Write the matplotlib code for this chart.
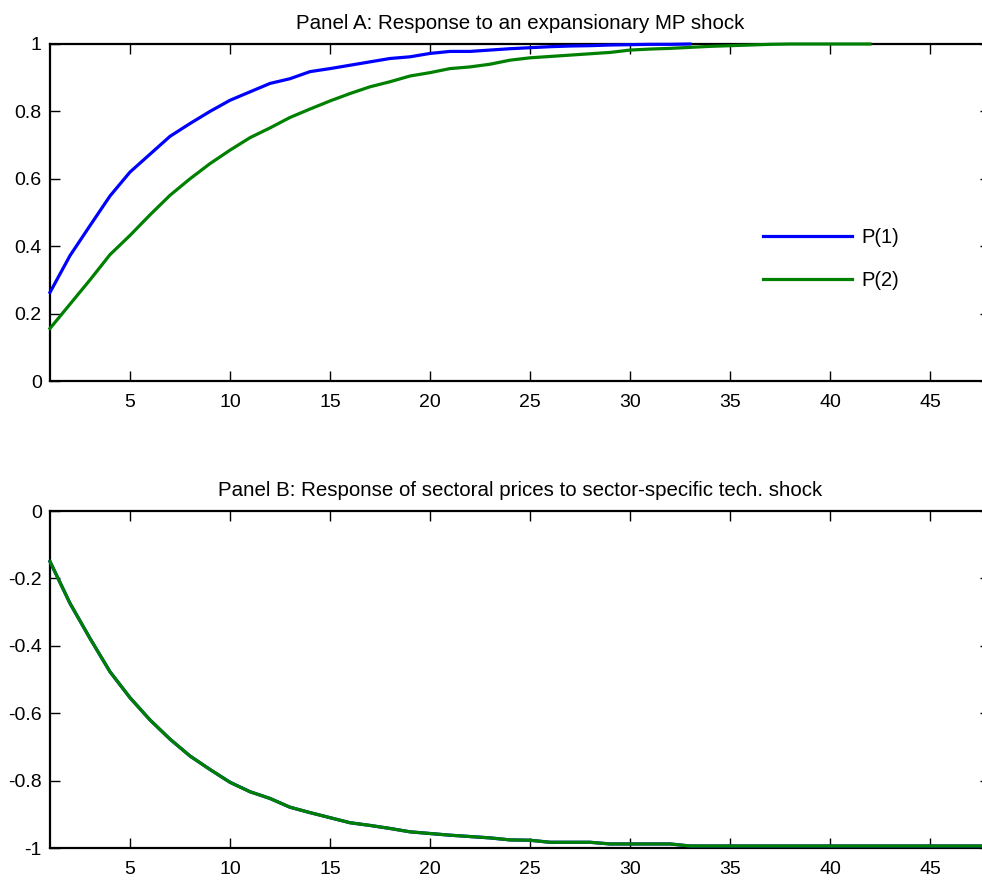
import matplotlib
matplotlib.use("Agg")
import matplotlib.pyplot as plt
from matplotlib.ticker import FuncFormatter

plt.rcParams['font.family'] = ['Liberation Sans', 'DejaVu Sans']
plt.rcParams['axes.unicode_minus'] = False

# Panel A data
a_p1_x = list(range(1, 34))
a_p1 = [0.263, 0.372, 0.461, 0.549, 0.620, 0.673, 0.726, 0.764, 0.800, 0.833,
        0.858, 0.883, 0.897, 0.918, 0.927, 0.937, 0.947, 0.957, 0.962, 0.972,
        0.978, 0.978, 0.982, 0.986, 0.989, 0.992, 0.994, 0.995, 0.997, 0.998,
        0.999, 0.999, 1.000]
a_p2_x = list(range(1, 43))
a_p2 = [0.156, 0.228, 0.300, 0.375, 0.432, 0.493, 0.551, 0.600, 0.645, 0.685,
        0.722, 0.751, 0.782, 0.807, 0.831, 0.853, 0.873, 0.888, 0.905, 0.915,
        0.927, 0.932, 0.940, 0.952, 0.959, 0.963, 0.967, 0.971, 0.975, 0.982,
        0.985, 0.987, 0.990, 0.993, 0.995, 0.997, 0.999, 1.000, 1.000, 1.000,
        1.000, 1.000]

# Panel B data (both sectors identical)
b_x = list(range(1, 49))
b_p1 = [-0.150, -0.274, -0.378, -0.477, -0.554, -0.620, -0.677, -0.727, -0.767, -0.805,
        -0.833, -0.853, -0.879, -0.895, -0.910, -0.925, -0.933, -0.942, -0.952, -0.957,
        -0.962, -0.966, -0.970, -0.976, -0.977, -0.983, -0.983, -0.983, -0.988, -0.988,
        -0.988, -0.988, -0.994, -0.994, -0.994, -0.994, -0.994, -0.994, -0.994, -0.994,
        -0.994, -0.994, -0.994, -0.994, -0.994, -0.994, -0.994, -0.994]
b_p2 = list(b_p1)

xticks = [5, 10, 15, 20, 25, 30, 35, 40, 45]
a_yticks = [0, 0.2, 0.4, 0.6, 0.8, 1]
b_yticks = [0, -0.2, -0.4, -0.6, -0.8, -1]
labels = ['P(1)', 'P(2)']
titles = ['Panel A: Response to an expansionary MP shock',
          'Panel B: Response of sectoral prices to sector-specific tech. shock']

W, H = 982, 880
fig = plt.figure(figsize=(W / 100, H / 100), dpi=100)

def px_axes(left, top, right, bottom):
    return fig.add_axes([left / W, 1 - bottom / H, (right - left) / W, (bottom - top) / H])

axA = px_axes(50, 44, 990, 381)
axB = px_axes(50, 511, 990, 848)

blue = (0, 0, 1)
green = (0, 0.5, 0)

fmt = FuncFormatter(lambda v, p: ('%g' % round(v, 4)))

for ax, title in zip([axA, axB], titles):
    ax.set_xlim(1, 48)
    ax.set_xticks(xticks)
    ax.tick_params(direction='in', length=7, width=1.0, labelsize=14,
                   top=True, right=True, colors='black')
    ax.tick_params(axis='x', pad=9)
    ax.tick_params(axis='y', pad=6)
    ax.xaxis.set_major_formatter(fmt)
    ax.yaxis.set_major_formatter(fmt)
    for s in ax.spines.values():
        s.set_linewidth(1.6)
    ax.set_title(title, fontsize=14.8, pad=11)

l1, = axA.plot(a_p1_x, a_p1, color=blue, lw=2.3, zorder=3, clip_on=False)
l2, = axA.plot(a_p2_x, a_p2, color=green, lw=2.3, zorder=3, clip_on=False)
axA.set_ylim(0, 1)
axA.set_yticks(a_yticks)
axA.legend([l1, l2], labels, loc='upper left', bbox_to_anchor=(0.7585, 0.455),
           frameon=False, fontsize=14.5, handlelength=4.4, handletextpad=0.5,
           labelspacing=1.2, borderpad=0, borderaxespad=0)

axB.plot(b_x, b_p1, color=blue, lw=2.3, zorder=3, clip_on=False)
axB.plot(b_x, b_p2, color=green, lw=2.3, zorder=3, clip_on=False)
axB.set_ylim(-1, 0)
axB.set_yticks(b_yticks)

fig.savefig('out.png', dpi=100)
